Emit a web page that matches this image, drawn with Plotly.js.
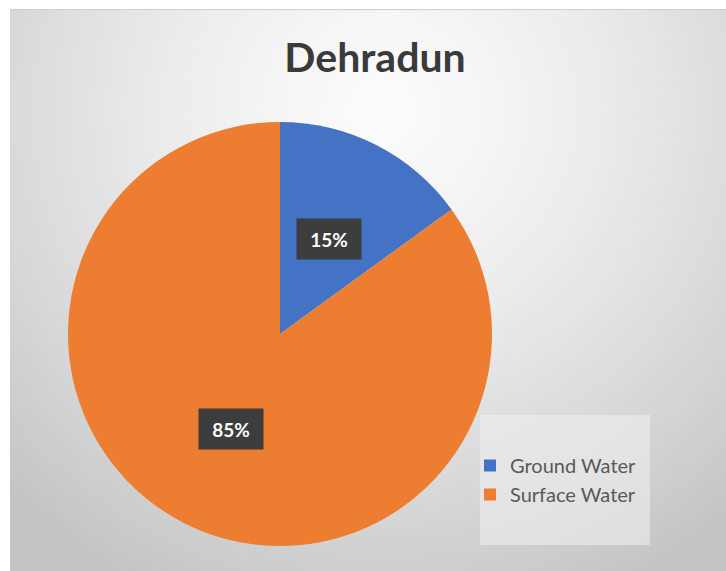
<!DOCTYPE html>
<html>
<head>
<meta charset="utf-8">
<script src="https://cdn.plot.ly/plotly-3.0.1.min.js"></script>
<style>
  html, body { margin: 0; padding: 0; background: #ffffff; }
  #bg { position: absolute; left: 10px; top: 9px; width: 716px; height: 562px;
        background: radial-gradient(ellipse 75% 95% at 52% 18%, #fdfdfd 0%, #ececec 40%, #d6d6d6 75%, #c4c4c4 100%);
        border-top: 1px solid #cfcfcf; }
  #chart { position: absolute; left: 0; top: 0; width: 726px; height: 571px; }
</style>
</head>
<body>
<div id="bg"></div>
<div id="chart"></div>
<script>
const categories = ["Ground Water", "Surface Water"];
const shares = [15, 85];
const sliceColors = ["#4472C4", "#ED7D31"];

const W = 726, H = 571;
const CX = 280, CY = 334, R = 212;

const domain = {
  x: [(CX - R) / W, (CX + R) / W],
  y: [1 - (CY + R) / H, 1 - (CY - R) / H]
};

const total = shares.reduce((a, b) => a + b, 0);
let start = 0;
const annotations = shares.map((v, i) => {
  const mid = (start + v / 2) / total * 2 * Math.PI;
  start += v;
  const px = CX + 0.505 * R * Math.sin(mid);
  const py = CY - 0.505 * R * Math.cos(mid);
  return {
    x: px / W, y: 1 - py / H, xref: "paper", yref: "paper",
    xanchor: "center", yanchor: "middle",
    text: "<b>" + Math.round(v / total * 100) + "%</b>",
    showarrow: false,
    font: { family: "Lato, 'Open Sans', sans-serif", size: 19, color: "#ffffff" },
    bgcolor: "#3d3d3d",
    borderpad: 9,
    width: 46, height: 22
  };
});

const trace = {
  type: "pie",
  labels: categories,
  values: shares,
  sort: false,
  direction: "clockwise",
  rotation: 0,
  textinfo: "none",
  hoverinfo: "label+percent",
  marker: { colors: sliceColors, line: { width: 0 } },
  domain: domain
};

const layout = {
  width: W, height: H,
  margin: { l: 0, r: 0, t: 0, b: 0 },
  paper_bgcolor: "rgba(0,0,0,0)",
  plot_bgcolor: "rgba(0,0,0,0)",
  title: {
    text: "<b>Dehradun</b>",
    font: { family: "Lato, 'Open Sans', sans-serif", size: 41, color: "#3a3a3a" },
    x: 375 / W, xanchor: "center",
    y: 1 - 58 / H, yanchor: "middle"
  },
  showlegend: true,
  legend: {
    x: 470 / W, xanchor: "left",
    y: 1 - 480 / H, yanchor: "middle",
    bgcolor: "rgba(0,0,0,0)",
    font: { family: "Lato, 'Open Sans', sans-serif", size: 20, color: "#595959" },
    tracegroupgap: 0
  },
  shapes: [{
    type: "rect", xref: "paper", yref: "paper",
    x0: 480 / W, x1: 650 / W, y0: 1 - 545 / H, y1: 1 - 415 / H,
    fillcolor: "rgba(240,240,240,0.55)", line: { width: 0 }, layer: "below"
  }],
  annotations: annotations
};

Plotly.newPlot("chart", [trace], layout, { displayModeBar: false, staticPlot: true });
</script>
</body>
</html>
